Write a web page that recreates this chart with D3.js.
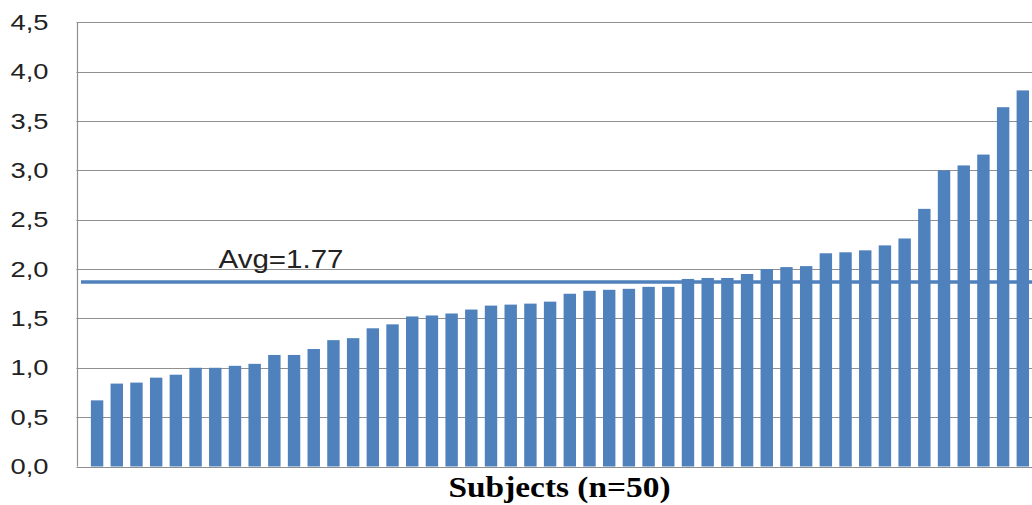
<!DOCTYPE html>
<html>
<head>
<meta charset="utf-8">
<script src="https://cdn.jsdelivr.net/npm/d3@7"></script>
<style>
  html, body { margin: 0; padding: 0; background: #fff; }
  svg { display: block; }
</style>
</head>
<body>
<svg id="chart" width="1032" height="505"></svg>
<script>
// ---- data ----
const subjects = d3.range(1, 49);           // visible subjects, sorted by score
const scores = [
  0.67, 0.84, 0.85, 0.90, 0.93, 1.00, 1.00, 1.02, 1.04, 1.13,
  1.13, 1.19, 1.28, 1.30, 1.40, 1.44, 1.52, 1.53, 1.55, 1.59,
  1.63, 1.64, 1.65, 1.67, 1.75, 1.78, 1.79, 1.80, 1.82, 1.82,
  1.90, 1.91, 1.91, 1.95, 2.00, 2.02, 2.03, 2.16, 2.17, 2.19,
  2.24, 2.31, 2.61, 3.00, 3.05, 3.16, 3.64, 3.81
];
const yTicks = [0, 0.5, 1.0, 1.5, 2.0, 2.5, 3.0, 3.5, 4.0, 4.5];
const avgLineValue = [1.87];
const avgLabel = ["Avg=1.77"];
const xTitle = ["Subjects (n=50)"];

// ---- layout ----
const svg = d3.select("#chart");
const mLeft = 76.5, mRight = 1043.4, mTop = 22.3, mBottom = 466.5;

const x = d3.scaleBand()
  .domain(subjects)
  .range([mLeft, mRight])
  .paddingInner(0.37)
  .paddingOuter(0.73);

const y = d3.scaleLinear().domain([0, 4.5]).range([mBottom, mTop]);

const fmt = v => d3.format(".1f")(v).replace(".", ",");

// gridlines
svg.append("g")
  .selectAll("line")
  .data(yTicks.filter(t => t > 0))
  .join("line")
  .attr("x1", mLeft).attr("x2", 1032)
  .attr("y1", d => Math.round(y(d)) + 0.5)
  .attr("y2", d => Math.round(y(d)) + 0.5)
  .attr("stroke", "#8f8f8f")
  .attr("stroke-width", 1.2);

// y axis labels
const yAxis = svg.append("g")
  .attr("transform", `translate(${mLeft},0)`)
  .call(d3.axisLeft(y).tickValues(yTicks).tickFormat(fmt).tickSize(0).tickPadding(28));
yAxis.select(".domain").remove();
yAxis.selectAll("text")
  .attr("font-family", "'Liberation Sans', Arial, sans-serif")
  .attr("font-size", 22)
  .attr("fill", "#222")
  .attr("textLength", 38)
  .attr("lengthAdjust", "spacingAndGlyphs");

// bars
svg.append("g")
  .selectAll("rect")
  .data(scores)
  .join("rect")
  .attr("x", (d, i) => x(subjects[i]))
  .attr("width", x.bandwidth())
  .attr("y", d => y(d))
  .attr("height", d => y(0) - y(d))
  .attr("fill", "#4f81bd");

// axis lines
svg.append("line")
  .attr("x1", Math.round(mLeft) + 0.5).attr("x2", Math.round(mLeft) + 0.5)
  .attr("y1", mTop).attr("y2", mBottom)
  .attr("stroke", "#8f8f8f").attr("stroke-width", 1.2);
svg.append("line")
  .attr("x1", mLeft).attr("x2", 1032)
  .attr("y1", Math.round(y(0)) + 0.5).attr("y2", Math.round(y(0)) + 0.5)
  .attr("stroke", "#8f8f8f").attr("stroke-width", 1.2);

// average line
svg.append("g")
  .selectAll("line")
  .data(avgLineValue)
  .join("line")
  .attr("x1", 81).attr("x2", 1032)
  .attr("y1", d => y(d)).attr("y2", d => y(d))
  .attr("stroke", "#4f81bd")
  .attr("stroke-width", 3.5);

svg.append("g")
  .selectAll("text")
  .data(avgLabel)
  .join("text")
  .attr("x", 218.5)
  .attr("y", 268)
  .attr("font-family", "'Liberation Sans', Arial, sans-serif")
  .attr("font-size", 25)
  .attr("fill", "#222")
  .attr("textLength", 125)
  .attr("lengthAdjust", "spacingAndGlyphs")
  .text(d => d);

// x title
svg.append("g")
  .selectAll("text")
  .data(xTitle)
  .join("text")
  .attr("x", 448.5)
  .attr("y", 497)
  .attr("font-family", "'Liberation Serif', 'Times New Roman', serif")
  .attr("font-weight", "bold")
  .attr("font-size", 30)
  .attr("fill", "#000")
  .attr("textLength", 222)
  .attr("lengthAdjust", "spacingAndGlyphs")
  .text(d => d);
</script>
</body>
</html>
